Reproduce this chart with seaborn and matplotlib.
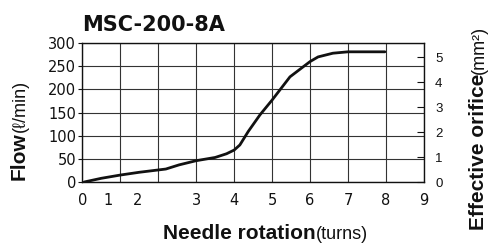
import matplotlib
matplotlib.use('Agg')
import matplotlib.pyplot as plt
import seaborn as sns
import pandas as pd

# courbe (position en cases de la grille, debit en l/min)
rotation_pos = [0.05, 0.5, 1.0, 1.5, 2.0, 2.2, 2.55, 3.0, 3.5, 3.8, 4.0, 4.15,
                4.37, 4.68, 5.0, 5.47, 6.0, 6.21, 6.6, 7.0, 7.97]
flow = [0, 8, 15, 21, 26, 28, 37, 46, 53, 61, 69, 80,
        109, 145, 177, 227, 260, 270, 278, 281, 281]

# graduations de l'axe x (echelle non lineaire entre 0 et 3)
x_label_pos = [0, 0.68, 1.45, 3, 4, 5, 6, 7, 8, 9]
x_labels = ['0', '1', '2', '3', '4', '5', '6', '7', '8', '9']
x_grid = [0, 1, 2, 3, 4, 5, 6, 7, 8, 9]
flow_ticks = [0, 50, 100, 150, 200, 250, 300]
orifice_ticks = [0, 1, 2, 3, 4, 5]

df = pd.DataFrame({'pos': rotation_pos, 'flow': flow})

sns.set_theme(style='white')
plt.rcParams['font.family'] = ['DejaVu Sans']

fig = plt.figure(figsize=(4.89, 2.43), dpi=100)
ax = fig.add_axes([0.1683, 0.251, 0.6988, 0.572])

sns.lineplot(data=df, x='pos', y='flow', ax=ax, color='#111111', linewidth=2.0)

ax.set_xlim(0, 9)
ax.set_ylim(0, 300)
ax.xaxis.remove_overlapping_locs = False
ax.set_xticks(x_label_pos)
ax.set_xticklabels(x_labels)
ax.set_xticks(x_grid, minor=True)
ax.set_yticks(flow_ticks)
ax.tick_params(axis='x', which='both', length=0, pad=8, labelsize=10.5, colors='#111111')
ax.tick_params(axis='y', direction='out', length=3, width=0.8, pad=1.5,
               labelsize=10.5, colors='#111111', left=True)
ax.grid(False)
ax.grid(True, which='minor', axis='x', color='#333333', linewidth=0.8)
ax.grid(True, which='major', axis='y', color='#333333', linewidth=0.8)
ax.set_xlabel('')
ax.set_ylabel('')
for s in ax.spines.values():
    s.set_color('#111111')
    s.set_linewidth(1.0)

ax2 = ax.twinx()
ax2.set_ylim(0, 5.57)
ax2.set_yticks(orifice_ticks)
ax2.tick_params(axis='y', direction='in', length=5, width=0.8, pad=8,
                labelsize=9.5, colors='#111111', right=True)
for lbl in ax2.get_yticklabels():
    lbl.set_family('Liberation Sans')
ax2.grid(False)
for s in ax2.spines.values():
    s.set_visible(False)

ax.set_title('MSC-200-8A', loc='left', fontsize=15, fontweight='bold', pad=9, color='#111111')

lab_font = ['Liberation Sans', 'DejaVu Sans']

# titre de l'axe x
t = fig.text(163 / 489, 1 - 239 / 243, 'Needle rotation', fontsize=15, fontweight='bold',
             family=lab_font, va='baseline', ha='left', color='#111111')
ax.annotate('(turns)', xy=(1, 0), xycoords=t, fontsize=13, family=lab_font,
            va='bottom', ha='left', color='#111111')

# titre de l'axe y gauche
t = fig.text(29 / 489, 1 - 180 / 243, 'Flow', fontsize=15, fontweight='bold',
             family=lab_font, rotation=90, va='bottom', ha='right', color='#111111')
ax.annotate('(ℓ/min)', xy=(1, 1), xycoords=t, fontsize=13, family=lab_font,
            rotation=90, va='bottom', ha='right', color='#111111')

# titre de l'axe y droit
t = fig.text(488 / 489, 1 - 230 / 243, 'Effective orifice', fontsize=15, fontweight='bold',
             family=lab_font, rotation=90, va='bottom', ha='right', color='#111111')
ax.annotate('(mm²)', xy=(1, 1), xycoords=t, fontsize=13, family=lab_font,
            rotation=90, va='bottom', ha='right', color='#111111')

fig.savefig('out.png', dpi=100)
